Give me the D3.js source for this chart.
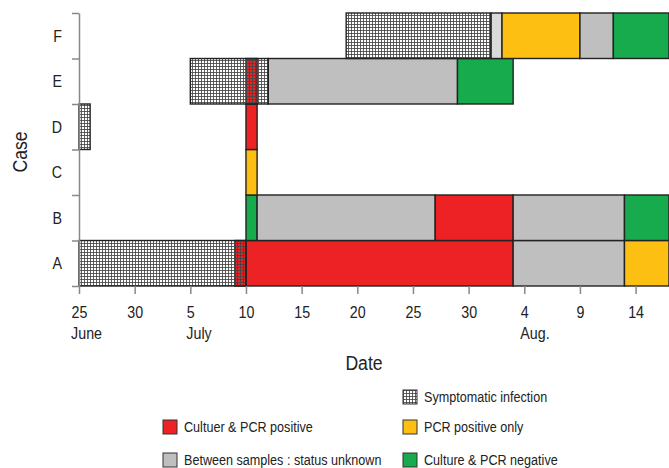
<!DOCTYPE html>
<html>
<head>
<meta charset="utf-8">
<script src="https://cdn.jsdelivr.net/npm/d3@7"></script>
<style>
  body { margin: 0; background: #fff; }
  svg { display: block; font-family: "Liberation Sans", Arial, sans-serif; }
</style>
</head>
<body>
<div id="wrapper"></div>
<script>
// cases bottom to top
const cases = ["A", "B", "C", "D", "E", "F"];

// status periods: [case, from, to, status]
const statusPeriods = [
  ["A", "2013-07-09", "2013-07-10", "pos"],
  ["A", "2013-07-10", "2013-08-03", "pos"],
  ["A", "2013-08-03", "2013-08-13", "unknown"],
  ["A", "2013-08-13", "2013-08-17", "pcr"],
  ["B", "2013-07-10", "2013-07-11", "neg"],
  ["B", "2013-07-11", "2013-07-27", "unknown"],
  ["B", "2013-07-27", "2013-08-03", "pos"],
  ["B", "2013-08-03", "2013-08-13", "unknown"],
  ["B", "2013-08-13", "2013-08-17", "neg"],
  ["C", "2013-07-10", "2013-07-11", "pcr"],
  ["D", "2013-07-10", "2013-07-11", "pos"],
  ["E", "2013-07-10", "2013-07-11", "pos"],
  ["E", "2013-07-12", "2013-07-29", "unknown"],
  ["E", "2013-07-29", "2013-08-03", "neg"],
  ["F", "2013-08-01", "2013-08-02", "gap"],
  ["F", "2013-08-02", "2013-08-09", "pcr"],
  ["F", "2013-08-09", "2013-08-12", "unknown"],
  ["F", "2013-08-12", "2013-08-17", "neg"]
];

// symptomatic infection periods: [case, from, to]
const symptomatic = [
  ["A", "2013-06-25", "2013-07-10"],
  ["D", "2013-06-25", "2013-06-26"],
  ["E", "2013-07-05", "2013-07-12"],
  ["F", "2013-07-19", "2013-08-01"]
];

// x tick days and the month written under some of them
const tickDates = ["2013-06-25", "2013-06-30", "2013-07-05", "2013-07-10", "2013-07-15",
  "2013-07-20", "2013-07-25", "2013-07-30", "2013-08-04", "2013-08-09", "2013-08-14"];
const monthLabels = [["2013-06-25", "June"], ["2013-07-05", "July"], ["2013-08-04", "Aug."]];

const statusColor = {
  pos: "#ed2224",
  pcr: "#fdbf12",
  unknown: "#bfbfbf",
  gap: "#dadada",
  neg: "#17ab4e"
};

const legendItems = [
  {key: "symp", label: "Symptomatic infection", col: 1, row: 0},
  {key: "pos", label: "Cultuer & PCR positive", col: 0, row: 1},
  {key: "pcr", label: "PCR positive only", col: 1, row: 1},
  {key: "unknown", label: "Between samples : status unknown", col: 0, row: 2},
  {key: "neg", label: "Culture & PCR negative", col: 1, row: 2}
];

const width = 669, height = 468;
const margin = {top: 13, right: 0, bottom: 182, left: 79};
const narrow = 0.84; // no condensed face installed, so squeeze the text
const parse = d3.utcParse("%Y-%m-%d");

const x = d3.scaleUtc()
  .domain([parse("2013-06-25"), parse("2013-08-17")])
  .range([margin.left, width - margin.right]);

const y = d3.scaleBand()
  .domain(cases)
  .range([height - margin.bottom, margin.top]);

// linear helper for tick marks on the band edges
const yEdge = d3.scaleLinear()
  .domain([0, cases.length])
  .range([height - margin.bottom, margin.top]);

const svg = d3.select("#wrapper").append("svg")
  .attr("width", width)
  .attr("height", height);

function label(g, px, py, str, size, anchor) {
  return g.append("text")
    .attr("transform", `translate(${px},${py}) scale(${narrow},1)`)
    .attr("text-anchor", anchor || "start")
    .attr("font-size", size)
    .attr("fill", "#222")
    .text(str);
}

const defs = svg.append("defs");
const hatch = defs.append("pattern")
  .attr("id", "hatch")
  .attr("patternUnits", "userSpaceOnUse")
  .attr("width", 3)
  .attr("height", 3);
hatch.append("path")
  .attr("d", "M0,0.5H3M0.5,0V3")
  .attr("stroke", "#444")
  .attr("stroke-width", 0.85)
  .attr("fill", "none");

// status bars
svg.append("g")
  .attr("stroke", "#222")
  .attr("stroke-width", 1.4)
 .selectAll("rect")
 .data(statusPeriods)
 .join("rect")
  .attr("x", d => x(parse(d[1])))
  .attr("y", d => y(d[0]))
  .attr("width", d => x(parse(d[2])) - x(parse(d[1])))
  .attr("height", y.bandwidth())
  .attr("fill", d => statusColor[d[3]]);

// symptomatic overlay
svg.append("g")
  .attr("stroke", "#222")
  .attr("stroke-width", 1.4)
 .selectAll("rect")
 .data(symptomatic)
 .join("rect")
  .attr("x", d => x(parse(d[1])))
  .attr("y", d => y(d[0]))
  .attr("width", d => x(parse(d[2])) - x(parse(d[1])))
  .attr("height", y.bandwidth())
  .attr("fill", "url(#hatch)");

// y axis: ticks on the band edges, letters in between
const yAxis = svg.append("g")
  .attr("transform", `translate(${margin.left},0)`)
  .call(d3.axisLeft(yEdge).ticks(cases.length).tickSize(7).tickSizeOuter(0).tickFormat(""));
yAxis.selectAll("path, line").attr("stroke", "#888").attr("stroke-width", 1.5);

const yLabels = svg.append("g");
cases.forEach(c => label(yLabels, 62, y(c) + y.bandwidth() / 2 + 6, c, 17, "end"));

// x axis
const xAxis = svg.append("g")
  .attr("transform", `translate(0,${height - margin.bottom})`)
  .call(d3.axisBottom(x)
    .tickValues(tickDates.map(parse))
    .tickSize(8)
    .tickFormat(d3.utcFormat("%-d")));
xAxis.select(".domain").remove();
xAxis.selectAll("line").attr("stroke", "#888").attr("stroke-width", 1.5);
xAxis.selectAll("text")
  .attr("font-size", 17)
  .attr("fill", "#222")
  .attr("dy", null)
  .attr("y", 32)
  .attr("transform", `scale(${narrow},1)`);

// month names start where the day number starts
const dayWidth = {};
xAxis.selectAll(".tick").each(function(d) {
  dayWidth[+d] = d3.select(this).select("text").node().getComputedTextLength() * narrow;
});
const months = svg.append("g");
monthLabels.forEach(m => {
  const t = parse(m[0]);
  label(months, x(t) - dayWidth[+t] / 2, 339, m[1], 17);
});

// axis titles
label(svg, 364, 370, "Date", 21, "middle");
svg.append("text")
  .attr("transform", `translate(27,152) rotate(-90) scale(${narrow},1)`)
  .attr("text-anchor", "middle")
  .attr("font-size", 21)
  .attr("fill", "#222")
  .text("Case");

// legend
const legCols = [163, 403], legRows = [390, 420, 453];
const leg = svg.append("g")
 .selectAll("g")
 .data(legendItems)
 .join("g")
  .attr("transform", d => `translate(${legCols[d.col]},${legRows[d.row]})`);
leg.append("rect")
  .attr("width", 14)
  .attr("height", 14)
  .attr("fill", d => d.key === "symp" ? "url(#hatch)" : statusColor[d.key])
  .attr("stroke", "#333")
  .attr("stroke-width", 1);
leg.each(function(d) {
  label(d3.select(this), 21, 12, d.label, 15);
});
</script>
</body>
</html>
